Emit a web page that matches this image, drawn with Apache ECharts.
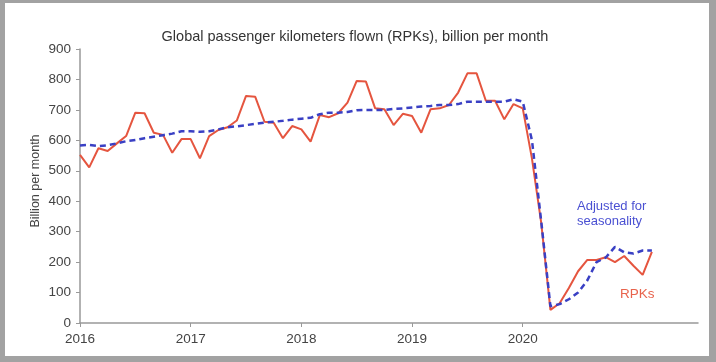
<!DOCTYPE html>
<html>
<head>
<meta charset="utf-8">
<script src="https://cdn.jsdelivr.net/npm/echarts@6/dist/echarts.min.js"></script>
<style>
html,body{margin:0;padding:0;background:#fff;}
#c{position:absolute;left:0;top:0;width:716px;height:362px;}
#frame{position:absolute;left:0;top:0;width:716px;height:362px;box-sizing:border-box;
 border-left:5px solid #a2a2a2;border-right:7px solid #a2a2a2;border-top:3px solid #a2a2a2;border-bottom:6px solid #a2a2a2;pointer-events:none;}
</style>
</head>
<body>
<div id="c"></div>
<div id="frame"></div>
<script>
// Months from Jan 2016 (index 0) to Mar 2021
const yearLabels = ['2016', '2017', '2018', '2019', '2020'];
const yTicks = [0, 100, 200, 300, 400, 500, 600, 700, 800, 900];

const rpks = [
  552, 511, 574, 565, 590, 614, 691, 689, 625, 618, 559, 604,
  604, 541, 614, 634, 643, 665, 746, 743, 661, 658, 607, 647,
  636, 596, 683, 676, 689, 724, 795, 793, 705, 702, 650, 687,
  680, 625, 702, 705, 716, 757, 820, 820, 730, 730, 669, 719,
  705, 540, 330, 43, 65, 115, 170, 207, 207, 216, 200, 220,
  188, 158, 234
];

const adjusted = [
  583, 585, 581, 584, 590, 597, 601, 607, 612, 617, 622, 630,
  630, 628, 630, 636, 643, 646, 650, 654, 658, 661, 664, 668,
  671, 674, 686, 691, 691, 693, 699, 700, 700, 700, 703, 705,
  708, 711, 713, 716, 716, 719, 727, 727, 727, 727, 727, 735,
  727, 600, 335, 55, 62, 78, 100, 140, 200, 215, 250, 232,
  228, 238, 238
];

const chart = echarts.init(document.getElementById('c'));
const font = '"Liberation Sans", Arial, sans-serif';
const yearTicks = yearLabels.map((y, i) => i * 12);

chart.setOption({
  animation: false,
  backgroundColor: '#fff',
  title: {
    text: 'Global passenger kilometers flown (RPKs), billion per month',
    left: 350, top: 24, textAlign: 'center',
    textStyle: {fontFamily: font, fontSize: 14.5, fontWeight: 'normal', color: '#333'}
  },
  grid: {left: 80, top: 49, width: 618, height: 274},
  xAxis: {
    type: 'value', min: 0, max: 67, interval: 12,
    splitLine: {show: false},
    axisLine: {lineStyle: {color: '#999', width: 1.5}},
    axisTick: {show: true, length: 4, customValues: yearTicks, lineStyle: {color: '#999'}},
    axisLabel: {
      customValues: yearTicks,
      formatter: v => yearLabels[Math.round(v / 12)] || '',
      color: '#444', fontFamily: font, fontSize: 13.5, margin: 9
    }
  },
  yAxis: {
    type: 'value', min: 0, max: 900, interval: 100,
    name: 'Billion per month', nameLocation: 'middle', nameGap: 38, nameRotate: 90,
    nameMoveOverlap: false,
    nameTextStyle: {fontFamily: font, fontSize: 12.5, color: '#444', padding: [0, 0, 0, 10]},
    splitLine: {show: false},
    axisLine: {show: true, lineStyle: {color: '#999', width: 1.5}},
    axisTick: {show: true, length: 4, lineStyle: {color: '#999'}},
    axisLabel: {
      formatter: v => yTicks.includes(v) ? String(v) : '',
      color: '#444', fontFamily: font, fontSize: 13.5, margin: 9
    }
  },
  series: [
    {
      name: 'RPKs', type: 'line', showSymbol: false, z: 2,
      data: rpks.map((v, i) => [i, v]),
      lineStyle: {color: '#e5553f', width: 2}
    },
    {
      name: 'Adjusted for seasonality', type: 'line', showSymbol: false, z: 3,
      data: adjusted.map((v, i) => [i, v]),
      lineStyle: {color: '#3a40c4', width: 2.5, type: [6, 4]}
    }
  ],
  graphic: [
    {type: 'text', left: 577, top: 199, style: {text: 'Adjusted for\nseasonality', fill: '#4a50d2', font: '500 13px ' + font, lineHeight: 15}},
    {type: 'text', left: 620, top: 287, style: {text: 'RPKs', fill: '#e8634c', font: '500 13.5px ' + font}}
  ]
});
</script>
</body>
</html>
